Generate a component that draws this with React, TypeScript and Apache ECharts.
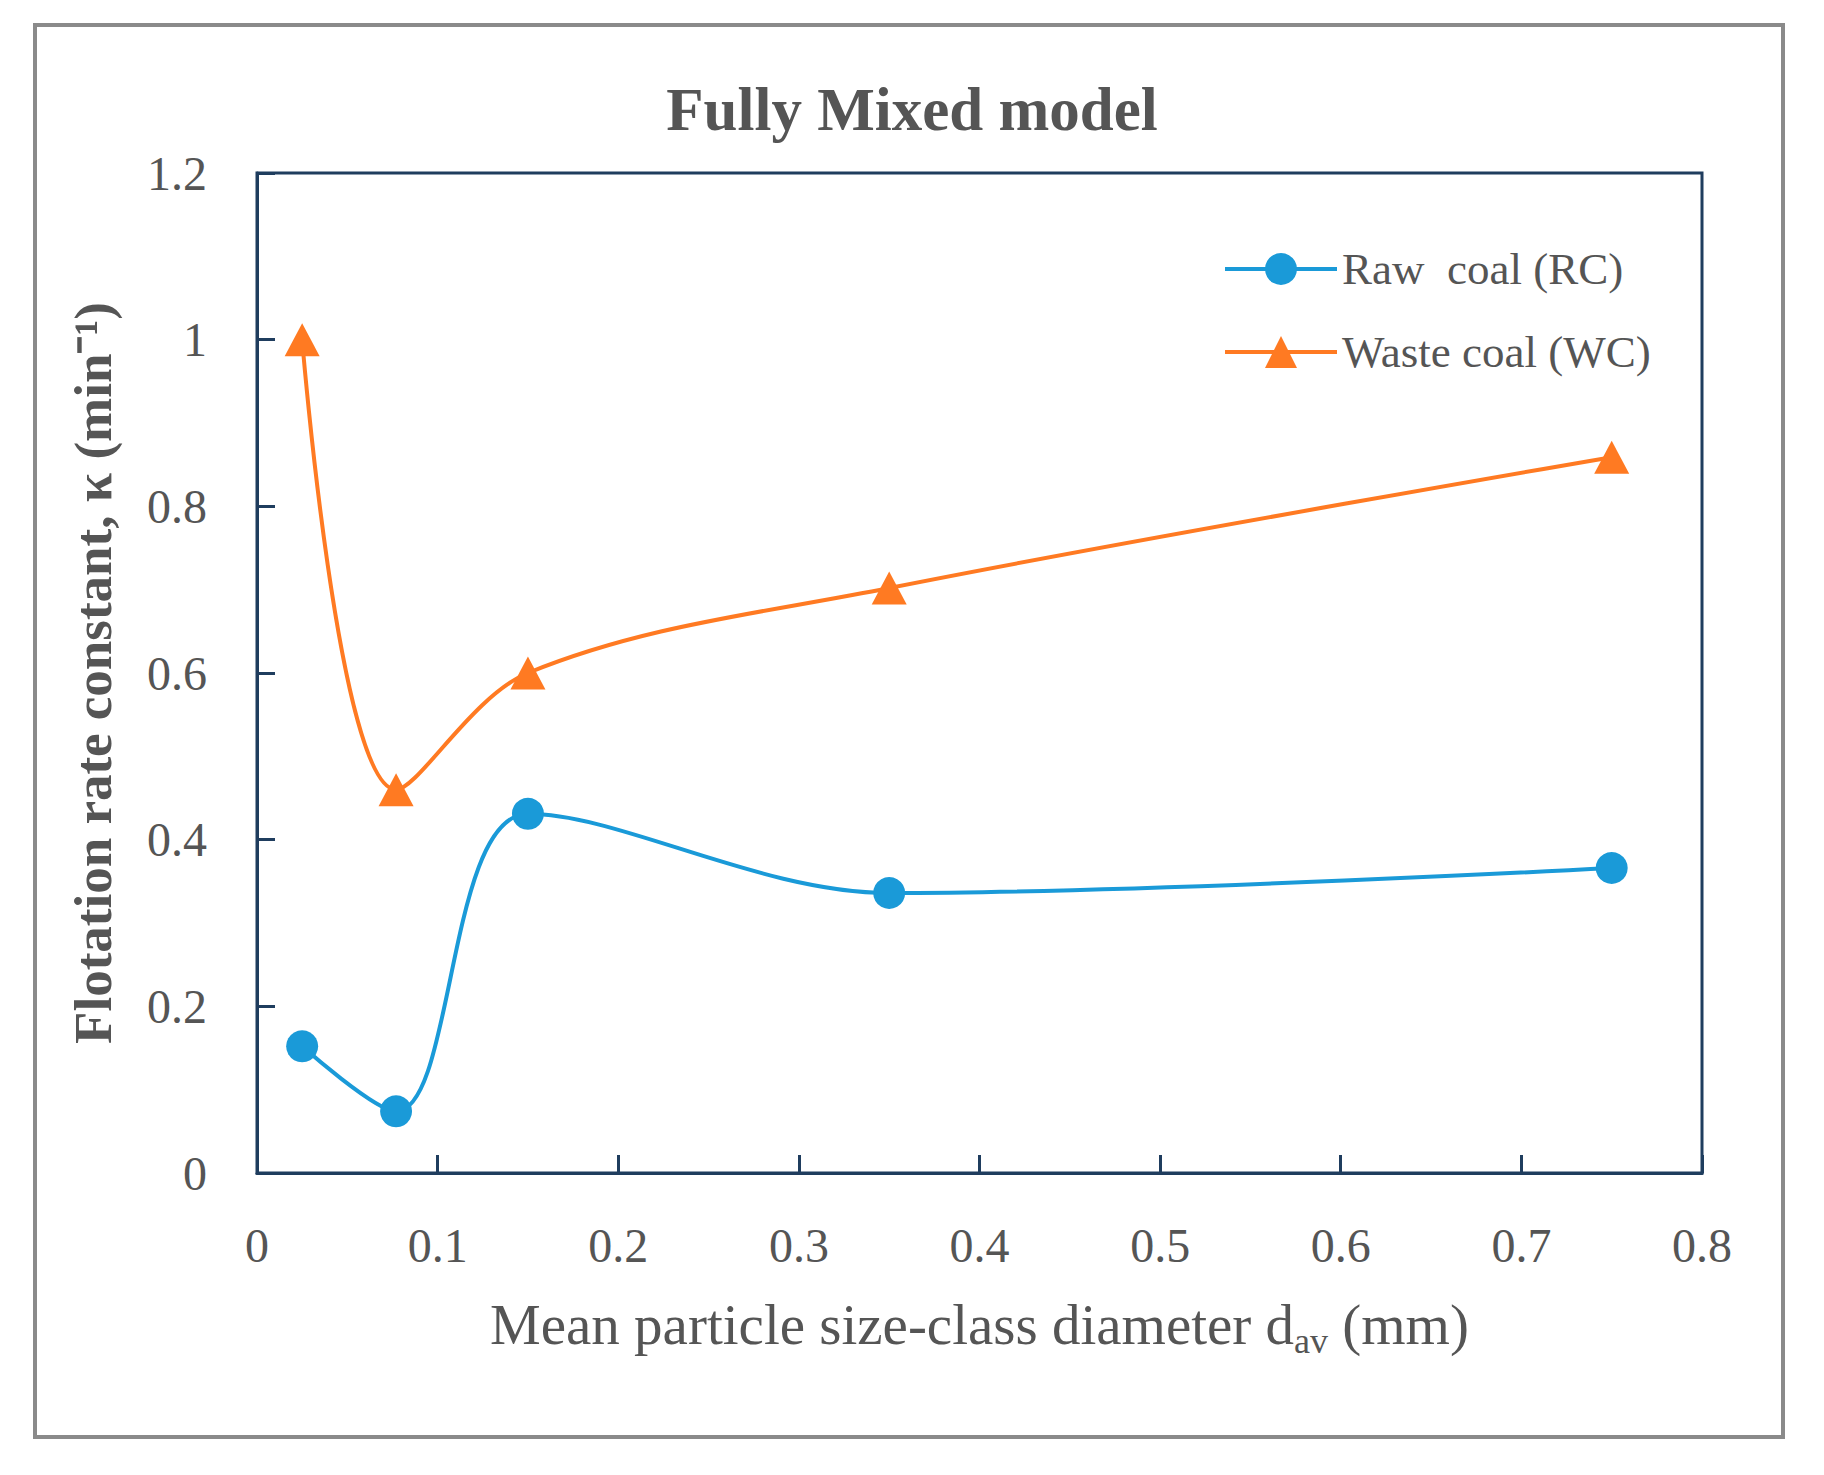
import React, { useEffect, useRef } from "react";
import * as echarts from "echarts";

const diameters = [0.025, 0.077, 0.15, 0.35, 0.75];
const rawCoal = [0.152, 0.074, 0.431, 0.336, 0.366];
const wasteCoal = [1.0, 0.46, 0.6, 0.702, 0.859];
const seriesNames = ["Raw  coal (RC)", "Waste coal (WC)"];
const titleText = "Fully Mixed model";

const FONT = "Liberation Serif";
const TEXT = "#555555";
const AXIS = "#1f3d5e";
const BLUE = "#1a9ad8";
const ORANGE = "#ff7a22";

export default function App() {
  const ref = useRef<HTMLDivElement>(null);
  useEffect(() => {
    if (!ref.current) return;
    const chart = echarts.init(ref.current, undefined, { renderer: "svg" });
    const toPairs = (ys: number[]) => diameters.map((x, i) => [x, ys[i]]);
    chart.setOption({
      animation: false,
      backgroundColor: "#ffffff",
      textStyle: { fontFamily: FONT },
      title: {
        text: titleText,
        left: "center",
        top: 74,
        textStyle: { fontFamily: FONT, fontSize: 61, fontWeight: "bold", color: TEXT },
      },
      graphic: [
        {
          type: "rect",
          shape: { x: 35, y: 25, width: 1748, height: 1412 },
          style: { fill: "none", stroke: "#8a8a8a", lineWidth: 4 },
          silent: true,
        },
      ],
      legend: {
        orient: "vertical",
        left: 1218,
        top: 239,
        itemWidth: 112,
        itemHeight: 40,
        itemGap: 33,
        data: seriesNames,
        lineStyle: { width: 4 },
        textStyle: { fontFamily: FONT, fontSize: 45, color: TEXT, lineHeight: 50 },
      },
      grid: {
        left: 257,
        top: 173,
        right: 122,
        bottom: 302,
        show: true,
        borderColor: AXIS,
        borderWidth: 3,
        containLabel: false,
      },
      xAxis: {
        type: "value",
        min: 0,
        max: 0.8,
        interval: 0.1,
        splitLine: { show: false },
        axisLine: { show: true, lineStyle: { color: AXIS, width: 3 } },
        axisTick: { show: true, inside: true, length: 18, lineStyle: { color: AXIS, width: 3 } },
        axisLabel: { margin: 48, fontFamily: FONT, fontSize: 48, color: TEXT },
        name: "{a|Mean particle size-class diameter d}{s|av}{a| (mm)}",
        nameLocation: "middle",
        nameGap: 116,
        nameTextStyle: {
          rich: {
            a: { fontFamily: FONT, fontSize: 57, color: TEXT, lineHeight: 64, verticalAlign: "bottom" },
            s: { fontFamily: FONT, fontSize: 36, color: TEXT, lineHeight: 36, verticalAlign: "bottom", padding: [0, 0, -6, 0] },
          },
        },
      },
      yAxis: {
        type: "value",
        min: 0,
        max: 1.2,
        interval: 0.2,
        splitLine: { show: false },
        axisLine: { show: true, lineStyle: { color: AXIS, width: 3 } },
        axisTick: { show: true, inside: true, length: 18, lineStyle: { color: AXIS, width: 3 } },
        axisLabel: { margin: 50, fontFamily: FONT, fontSize: 48, color: TEXT },
        name: "Flotation rate constant, κ (min⁻¹)",
        nameLocation: "middle",
        nameGap: 138,
        nameTextStyle: { fontFamily: FONT, fontSize: 53, fontWeight: "bold", color: TEXT },
      },
      series: [
        {
          name: seriesNames[0],
          type: "line",
          data: toPairs(rawCoal),
          smooth: 0.35,
          symbol: "circle",
          symbolSize: 32,
          lineStyle: { color: BLUE, width: 4 },
          itemStyle: { color: BLUE },
          z: 3,
        },
        {
          name: seriesNames[1],
          type: "line",
          data: toPairs(wasteCoal),
          smooth: 0.35,
          symbol: "triangle",
          symbolSize: [35, 33],
          lineStyle: { color: ORANGE, width: 4 },
          itemStyle: { color: ORANGE },
          z: 3,
        },
      ],
    });
    return () => chart.dispose();
  }, []);
  return (
    <div
      ref={ref}
      style={{ position: "absolute", left: 0, top: 0, width: 1824, height: 1475 }}
    />
  );
}
